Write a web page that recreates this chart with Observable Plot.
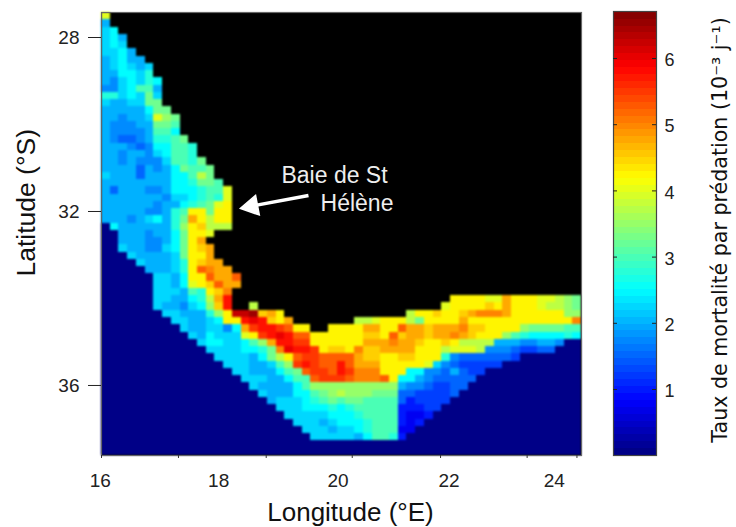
<!DOCTYPE html>
<html><head><meta charset="utf-8">
<script src="https://cdn.jsdelivr.net/npm/d3@7"></script>
<script src="https://cdn.jsdelivr.net/npm/@observablehq/plot@0.6"></script>
<style>
html,body{margin:0;padding:0;background:#fff}
#c{display:flex;width:736px;height:527px}
#c svg:first-child g[aria-label="rect"]{filter:blur(0.8px)}
</style></head><body><div id="c"></div>
<script>
// Predation mortality grid. One char per cell, west to east, north to south.
// '#' = land; digit/letter = level index, each level = 0.25 (10^-3 per day); short rows repeat their last char.
const S = n => "0".repeat(n), L = n => "#".repeat(n);
const levels = "0123456789ABCDEFGHIJKLMNOPQ";
const rates = [
"G#","8#","9A#","9A8#","9A9#","99A8#","89A88#","89A989#","88AA9B#","879A9BA#",
"779ACC8#","BB9A9D9#","98899DD#","88888ADD#","887889GED#","877788DDC#","877778CCA#","876678BBCD#","888767AACCB#","8878879ACCB#",
"88787779CCBD#","88886878ADCCD#","98886888AACFD#","88888888AABDDC#","86888778AAABCCG#","8888888799ABCBG#","888888788ABCDGH#","88888778BCHHDHH#","888789A8BDJHFHH#","0A888888BEHIFFF#",
"00888788ADHHG#","00888778ADHJ#","00988779ADHIJ#","000988889DHHJ#","000098889BHIJJ#","000008889BHLKJJ#","000000998AHHLJJL#","000000998AGHILJJ#","0000009998CBHIK#",
"0000009988ABFJN"+L(25)+"HHHHGGJHHHGGFED",
"00000098879AEIN"+"##F"+L(21)+"GHHHHIHJHHHGFFED",
S(7)+"99888BEHPPQIJH"+L(14)+"FHHIHHIJKKKJHHHHHHEE",
S(8)+"9988"+"9AHHNONIHJ"+L(7)+"FFGHHHFDHHHHJHHHHHHHHHHHHK",
S(9)+"988997AJMNNMLHH"+"##"+"HHHHJJHHLJJIJJJKIIHHHHEDDDDCC",
S(10)+"98A999GHMNONLLHHHHHH"+"IIHLIJJIJJKJIHHHECBAAAABA",
S(11)+"9AA99ACEJNNMMHHHHHH"+"JJJKJJIHHIHFFFF888778870",
S(12)+"9999AABDKONNMHII"+"HKIIJJJJHHHFGGGF777655660",
S(13)+"99998ADFHLMMLLL"+"LJIIHHIIHHHB76666665"+"0",
S(14)+"999889CEMNMLL"+"NLJJJHHHHHG9"+"7655555"+"0",
S(15)+"99888ACDLMMLN"+"MKKKHHHAA7768655"+"0",
S(16)+"99988ACCLMMM"+"LKKKLHAA8766666"+"0",
S(17)+"98888ACEEE"+"EEEEEEE87765566"+"0",
S(18)+"9888AACDEF"+"EEEDDD6655556"+"0",
S(19)+"8999ABCDC"+"DDCCCC645555"+"0",
S(20)+"999AAABA"+"BCCCCC44455"+"0",
S(21)+"99999AA"+"ABCCCC4334"+"0",
S(22)+"99989A"+"AABCCC434"+"0",
S(23)+"99989"+"9ABCCC33"+"0",
S(24)+"9999"+"98ACCB4"+"0",
"0","0"
];
const nCols = 55;
const lonWest = 16, lonEast = 16 + 480 / 56.6;
const latTop = 27.425, latBottom = 37.61;
const xTickLon = [16, 17.36, 18.91, 20.43, 21.99, 23.52, 24.4];
const xLabelLon = [15.98, 18.07, 20.18, 22.14, 24];
const xLabels = ["16", "18", "20", "22", "24"];
const yLabelLat = [28, 32, 36];
const barTicks = [1, 2, 3, 4, 5, 6];
const barMin = 0.003, barMax = 6.71;

const dLon = (lonEast - lonWest) / nCols, dLat = (latBottom - latTop) / rates.length;
const cells = [];
rates.forEach((s, r) => {
  const row = s.padEnd(nCols, s[s.length - 1]);
  for (let c = 0; c < nCols; c++) {
    if (row[c] === "#") continue;
    const i = levels.indexOf(row[c]);
    cells.push({lon: lonWest + c * dLon, lat: latTop + r * dLat, v: i === 0 ? 0.05 : i * 0.25});
  }
});
const clamp = x => Math.max(0, Math.min(1, x));
const jet = t => `rgb(${[3, 2, 1].map(k => Math.round(255 * clamp(1.5 - Math.abs(4 * t - k)))).join(",")})`;
const colorScale = {type: "linear", domain: [0, 6.7], interpolate: jet};
const sans = "Liberation Sans, Arial, sans-serif";

const notes = [
  {lon: 20.117, lat: 31.172, t: "Baie de St"},
  {lon: 20.514, lat: 31.816, t: "Hélène"}
];
const arrowShaft = [{x1: 19.657, y1: 31.632, x2: 18.72, y2: 31.86}];
const arrowHead = [{lon: 18.655, lat: 31.88}];

const main = Plot.plot({
  width: 600, height: 527,
  marginLeft: 101, marginRight: 19, marginTop: 12, marginBottom: 72,
  style: {fontFamily: sans, color: "#222", overflow: "visible"},
  x: {domain: [lonWest, lonEast], label: null},
  y: {domain: [latTop, latBottom], reverse: true, label: null},
  color: colorScale,
  marks: [
    Plot.frame({fill: "black"}),
    Plot.rect(cells, {x1: "lon", x2: d => d.lon + dLon, y1: "lat", y2: d => d.lat + dLat, fill: "v", shapeRendering: "crispEdges"}),
    Plot.frame({stroke: "#666", strokeWidth: 1.2}),
    Plot.axisX({ticks: xTickLon, tickSize: 3, tickFormat: () => "", label: null, stroke: "#333"}),
    Plot.axisX({ticks: xLabelLon, tickSize: 0, tickPadding: 18, fontSize: 19, fill: "#222", label: null,
      tickFormat: d => xLabels[xLabelLon.indexOf(d)]}),
    Plot.axisY({ticks: yLabelLat, tickSize: 13, tickPadding: 9, fontSize: 19, fill: "#222", stroke: "#222", label: null, tickFormat: d => String(d)}),
    Plot.text(["Longitude (°E)"], {frameAnchor: "bottom", dy: 65, x: [lonWest + (350 - 101) / 56.6], fontSize: 26, fill: "#111"}),
    Plot.text(["Latitude (°S)"], {frameAnchor: "left", dx: -75, y: [31.8], rotate: -90, textAnchor: "middle", fontSize: 26.5, fill: "#111"}),
    Plot.link(arrowShaft, {x1: "x1", y1: "y1", x2: "x2", y2: "y2", stroke: "white", strokeWidth: 3.5}),
    Plot.dot(arrowHead, {x: "lon", y: "lat", symbol: "triangle", r: 7.4, fill: "white", stroke: "white", rotate: -100.8}),
    Plot.text(notes, {x: "lon", y: "lat", text: "t", fill: "#eee", fontSize: 23})
  ]
});

const bands = d3.range(64).map(i => ({a: i * 6.7 / 64, b: (i + 1) * 6.7 / 64}));
const bar = Plot.plot({
  width: 136, height: 527,
  marginLeft: 13, marginRight: 80, marginTop: 11, marginBottom: 72,
  style: {fontFamily: sans, color: "#222", overflow: "visible"},
  x: {domain: [0, 1], axis: null},
  y: {domain: [barMin, barMax], label: null},
  color: colorScale,
  marks: [
    Plot.rect(bands, {x1: 0, x2: 1, y1: "a", y2: "b", fill: d => (d.a + d.b) / 2, shapeRendering: "crispEdges"}),
    Plot.frame({stroke: "#444", strokeWidth: 1.2}),
    Plot.tickY(barTicks, {y: d => d, stroke: "#222", insetRight: 39}),
    Plot.tickY(barTicks, {y: d => d, stroke: "#222", insetLeft: 39}),
    Plot.axisY({anchor: "right", ticks: barTicks, tickSize: 0, tickPadding: 8, fontSize: 18, fill: "#222", label: null, dy: 2, textAnchor: "start", tickFormat: d => String(d)}),
    Plot.text(["Taux de mortalité par prédation (10⁻³ j⁻¹)"], {frameAnchor: "right", dx: 64, y: [3.41], rotate: -90, textAnchor: "middle", fontSize: 20.6, fontFamily: "DejaVu Sans", fill: "#111"})
  ]
});
document.getElementById("c").append(main, bar);
</script></body></html>
